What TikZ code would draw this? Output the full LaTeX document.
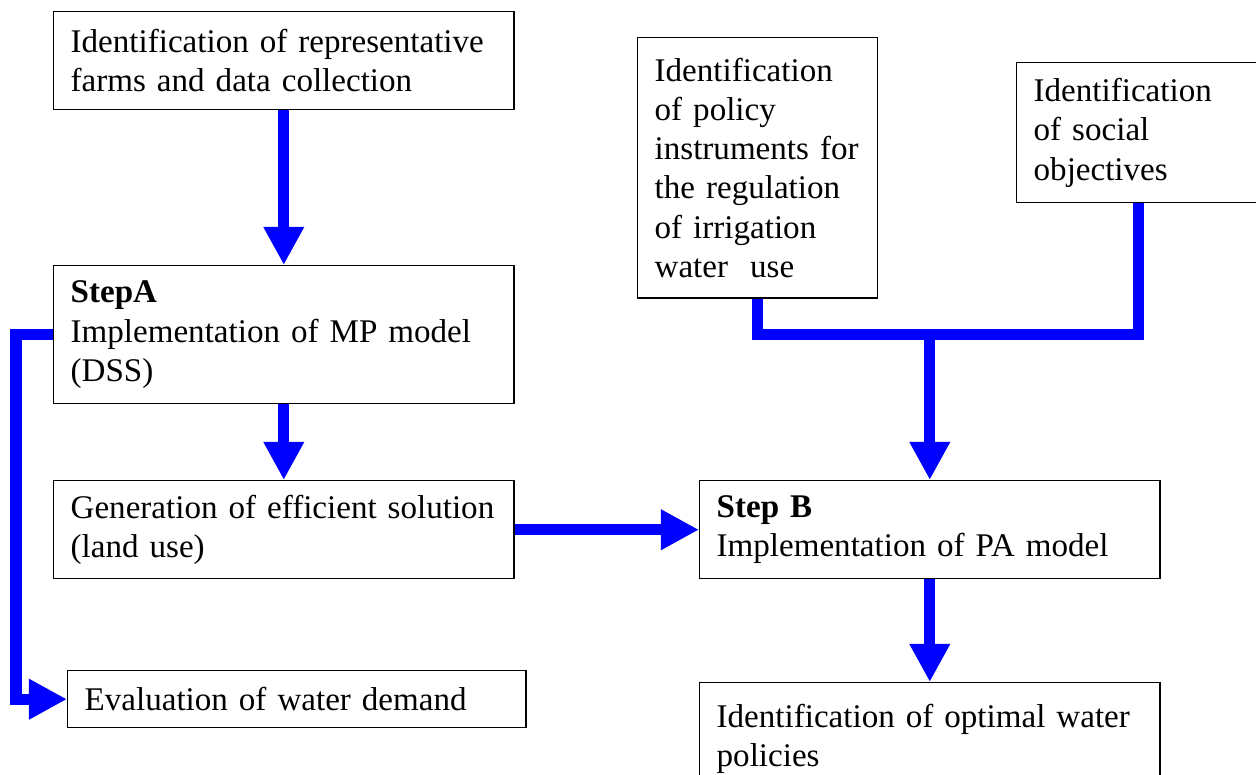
\documentclass[tikz,border=0pt]{standalone}
\usepackage{fontspec}
\setmainfont{Liberation Serif}
\usetikzlibrary{arrows.meta}
\tikzset{
	box/.style={draw, line width=0.5pt, anchor=north west, align=left,
		inner xsep=0.213cm, inner ysep=0pt, font=\fontsize{11.8}{14}\selectfont},
	flowline/.style={draw=blue, line width=0.138cm, line join=miter},
	flow/.style={flowline, -{Triangle[length=0.477cm, width=0.477cm]}},
}
\begin{document}
\begin{tikzpicture}[x=0.01255cm, y=-0.01255cm]
	\useasboundingbox (0,0) rectangle (1256,775);
	\clip (0,0) rectangle (1256,775);
	% left column
	\node[box, text width=5.346cm, minimum height=1.230cm] (farms) at (53,11)
		{Identification of representative\\farms and data collection};
	\node[box, text width=5.346cm, minimum height=1.732cm] (stepA) at (53,265)
		{\textbf{StepA}\\Implementation of MP model\\(DSS)};
	\node[box, text width=5.346cm, minimum height=1.230cm] (effsol) at (53,480)
		{Generation of efficient solution\\(land use)};
	\node[box, text width=5.321cm, minimum height=0.715cm] (waterdem) at (67,670)
		{Evaluation of water demand};
	% right column
	\node[box, text width=2.585cm, minimum height=3.263cm] (policy) at (637,37)
		{Identification\\of policy\\instruments for\\the regulation\\of irrigation\\water~ use};
	\node[box, text width=2.636cm, minimum height=1.757cm] (social) at (1016,62)
		{Identification\\of social\\objectives};
	\node[box, text width=5.346cm, minimum height=1.230cm] (stepB) at (699,480)
		{\textbf{Step B}\\Implementation of PA model};
	\node[box, text width=5.346cm, minimum height=1.406cm] (optpol) at (699,682)
		{Identification of optimal water\\policies};
	% connectors
	\draw[flow] (farms) -- (stepA);
	\draw[flow] (stepA) -- (effsol);
	\draw[flow] (stepA.west) -- ++(-37,0) |- (waterdem);
	\draw[flow] (effsol) -- (stepB);
	\coordinate (merge) at (stepB.north |- 0,335);
	\draw[flowline] (policy) |- (merge) -| (social);
	\draw[flow] (merge) -- (stepB);
	\draw[flow] (stepB) -- (optpol);
\end{tikzpicture}
\end{document}
